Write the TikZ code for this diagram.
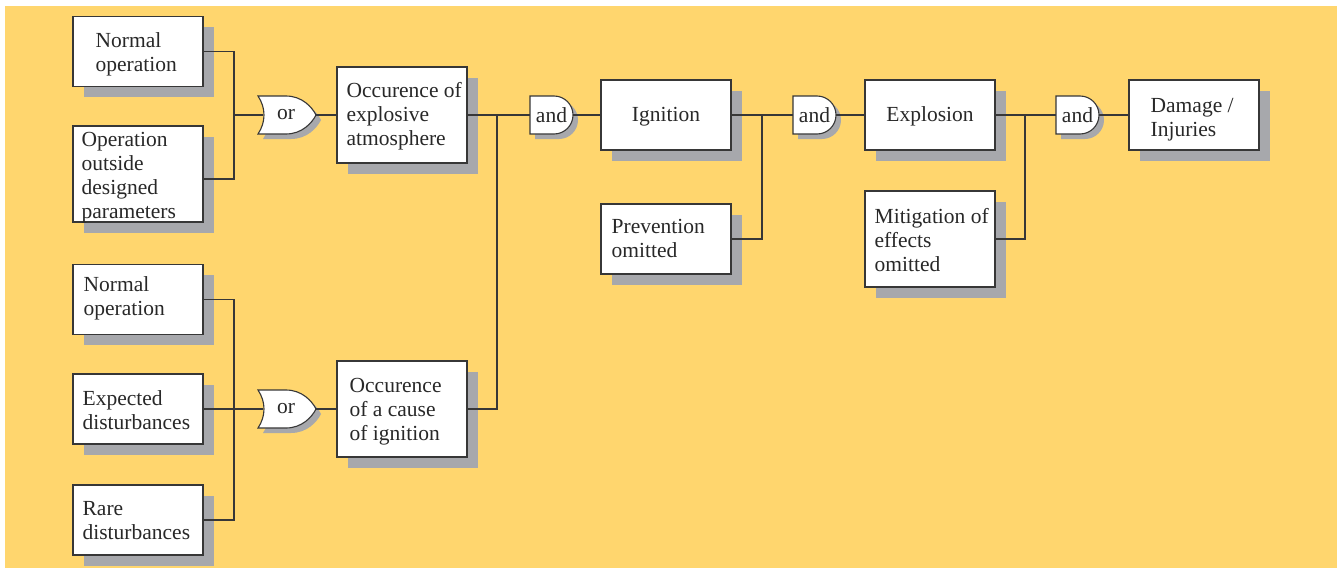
\documentclass[tikz,border=0pt]{standalone}
\usepackage{fontspec}
\setmainfont{Liberation Serif}
\usetikzlibrary{shadows}

\definecolor{bgyellow}{RGB}{255,214,110}
\definecolor{shadowgray}{RGB}{167,168,172}
\definecolor{inkgray}{RGB}{40,40,40}
\definecolor{edgegray}{RGB}{55,55,55}

% OR gate: name, left x, top y, label (58 x 38, concave input side)
\newcommand{\orgate}[4]{%
  \begin{scope}[shift={(#2,#3)}]
    \fill[shadowgray,shift={(5,5)}] (0,0) -- (28,0) .. controls (44,0) and (54,11) .. (58,19)
      .. controls (54,27) and (44,38) .. (28,38) -- (0,38) .. controls (8,26) and (8,12) .. (0,0) -- cycle;
    \draw[gateline] (0,0) -- (28,0) .. controls (44,0) and (54,11) .. (58,19)
      .. controls (54,27) and (44,38) .. (28,38) -- (0,38) .. controls (8,26) and (8,12) .. (0,0) -- cycle;
    \node[gatelabel, minimum width=58pt] (#1) at (28,19) {#4};
  \end{scope}}

% AND gate: name, left x, top y, label (43 x 38, round output side)
\newcommand{\andgate}[4]{%
  \begin{scope}[shift={(#2,#3)}]
    \fill[shadowgray,shift={(5,5)}] (0,0) -- (24,0) .. controls (34.5,0) and (43,8.5) .. (43,19)
      .. controls (43,29.5) and (34.5,38) .. (24,38) -- (0,38) -- cycle;
    \draw[gateline] (0,0) -- (24,0) .. controls (34.5,0) and (43,8.5) .. (43,19)
      .. controls (43,29.5) and (34.5,38) .. (24,38) -- (0,38) -- cycle;
    \node[gatelabel, minimum width=43pt] (#1) at (21.5,19) {#4};
  \end{scope}}

% event box with left-set text:
% name, centre x, centre y, height, text indent, text drop, text
\newcommand{\eventbox}[7]{%
  \node[box, minimum height=#4pt] (#1) at (#2,#3) {};
  \node[txt, anchor=west, align=left, inner sep=0pt] (#1-text)
    at ([shift={(#5,#6)}]#1.west) {#7};}

% event box with centred text: name, centre x, centre y, height, text drop, text
\newcommand{\eventboxc}[6]{%
  \node[box, minimum height=#4pt] (#1) at (#2,#3) {};
  \node[txt, align=center, inner sep=0pt] (#1-text)
    at ([shift={(0,#5)}]#1.center) {#6};}

\begin{document}
\begin{tikzpicture}[x=1pt, y=-1pt,
  txt/.style={font=\fontsize{21.5}{24}\selectfont, text=inkgray},
  box/.style={draw=edgegray, line width=1.1pt, fill=white, inner sep=0pt,
    minimum width=130pt,
    drop shadow={shadow xshift=10.5pt, shadow yshift=-10.5pt, opacity=1, fill=shadowgray}},
  gateline/.style={draw=edgegray, line width=1.1pt, fill=white},
  gatelabel/.style={txt, inner sep=0pt, minimum height=38pt},
  conn/.style={draw=edgegray, line width=1.3pt}]

\useasboundingbox (0,0) rectangle (1337,570);
\fill[bgyellow] (5,6) rectangle (1337,568);

% ---- initiating conditions, explosive atmosphere branch
\eventbox{n1}{138}{51.5}{70}{23}{2.5}{Normal\\operation}
\eventbox{n2}{138}{174}{96}{9}{4}{Operation\\outside\\designed\\parameters}

% ---- initiating conditions, ignition branch
\eventbox{n3}{138}{299.5}{70}{11}{-1}{Normal\\operation}
\eventbox{n4}{138}{409}{70}{10}{1}{Expected\\disturbances}
\eventbox{n5}{138}{520}{70}{10}{1}{Rare\\disturbances}

% ---- intermediate events
\eventbox{atm}{402}{115}{96}{10}{1}{Occurence of\\explosive\\atmosphere}
\eventbox{cause}{402}{409}{96}{13}{3}{Occurence\\of a cause\\of ignition}

\eventboxc{ign}{666}{115}{70}{2}{Ignition}
\eventbox{prev}{666}{239}{70}{11}{-1}{Prevention\\omitted}

\eventboxc{expl}{930}{115}{70}{1.5}{Explosion}
\eventbox{mit}{930}{239}{96}{10}{1}{Mitigation of\\effects\\omitted}

\eventbox{dmg}{1194}{115}{70}{22}{4.5}{Damage /\\Injuries}

% ---- gates
\orgate{or1}{258}{96}{or}
\orgate{or2}{258}{390}{or}
\andgate{and1}{530}{96}{and}
\andgate{and2}{793}{96}{and}
\andgate{and3}{1056}{96}{and}

% ---- junction points
\coordinate (j1) at (234,115);
\coordinate (j2) at (497,115);
\coordinate (j3) at (762,115);
\coordinate (j4) at (1025,115);
\coordinate (j5) at (234,409);

% ---- connectors
\draw[conn] (n1.east) -| (j1);
\draw[conn] ([yshift=-5pt]n2.east) -| (j1);
\draw[conn] (j1) -- ([xshift=6pt]or1.west);
\draw[conn] (or1.east) -- (atm.west);

\draw[conn] (n3.east) -| (j5);
\draw[conn] (n5.east) -| (j5);
\draw[conn] (n4.east) -- ([xshift=6pt]or2.west);
\draw[conn] (or2.east) -- (cause.west);

\draw[conn] (atm.east) -- (and1.west);
\draw[conn] (cause.east) -| (j2);
\draw[conn] (and1.east) -- (ign.west);

\draw[conn] (ign.east) -- (and2.west);
\draw[conn] (prev.east) -| (j3);
\draw[conn] (and2.east) -- (expl.west);

\draw[conn] (expl.east) -- (and3.west);
\draw[conn] (mit.east) -| (j4);
\draw[conn] (and3.east) -- (dmg.west);

\end{tikzpicture}
\end{document}
